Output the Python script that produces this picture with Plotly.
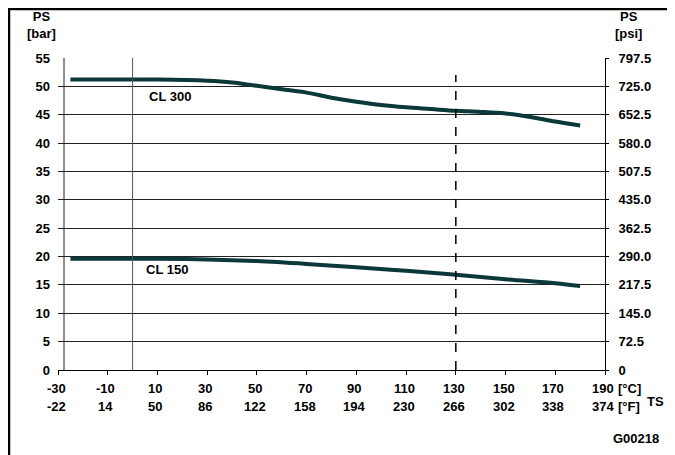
import plotly.graph_objects as go

# ---- data ----
cl300_t = [-25, -10, 10, 30, 40, 50, 60, 70, 80, 90, 100, 110, 120, 130, 140, 150, 160, 170, 180]
cl300_p = [51.2, 51.2, 51.2, 51.0, 50.7, 50.1, 49.5, 48.9, 48.0, 47.3, 46.7, 46.3, 46.0, 45.7, 45.5, 45.2, 44.6, 43.8, 43.1]
cl150_t = [-25, -10, 10, 30, 50, 70, 90, 110, 130, 150, 170, 180]
cl150_p = [19.6, 19.6, 19.6, 19.5, 19.2, 18.7, 18.1, 17.5, 16.8, 16.0, 15.3, 14.8]

x_ticks_c = [-30, -10, 10, 30, 50, 70, 90, 110, 130, 150, 170, 190]
x_ticks_f = ["-22", "14", "50", "86", "122", "158", "194", "230", "266", "302", "338", "374"]
y_ticks_bar = [0, 5, 10, 15, 20, 25, 30, 35, 40, 45, 50, 55]
y_ticks_psi = [0, 72.5, 145.0, 217.5, 290.0, 362.5, 435.0, 507.5, 580.0, 652.5, 725.0, 797.5]
y_ticks_psi_text = ["0"] + [f"{v:.1f}" for v in y_ticks_psi[1:]]

FONT = "Liberation Sans"
LINE_COLOR = "#0b3838"
W, H = 675, 455
OFF = 8  # page body margin
L, R, T, B = 50, 78, 50, 93
PW, PH = W - L - R, H - T - B

def px_x(p):
    # screen pixel -> paper x
    return (p - OFF - L) / PW

def px_y(p):
    return (H - B - (p - OFF)) / PH

fig = go.Figure()
fig.add_trace(go.Scatter(x=cl300_t, y=cl300_p, mode="lines", line=dict(color=LINE_COLOR, width=4, shape="spline"),
                         showlegend=False, hoverinfo="skip"))
fig.add_trace(go.Scatter(x=cl150_t, y=cl150_p, mode="lines", line=dict(color=LINE_COLOR, width=4, shape="spline"),
                         showlegend=False, hoverinfo="skip"))
fig.add_trace(go.Scatter(x=[None], y=[None], yaxis="y2", showlegend=False, hoverinfo="skip"))

tfont = dict(family=FONT, size=13, color="black", weight="bold")

fig.update_layout(
    width=W, height=H,
    margin=dict(l=L, r=R, t=T, b=B, pad=0),
    paper_bgcolor="white", plot_bgcolor="white",
    xaxis=dict(range=[-30, 190], tickvals=x_ticks_c, showticklabels=False, ticks="outside", ticklen=4,
               tickcolor="black", showline=True, linecolor="black", linewidth=1, showgrid=False, zeroline=False,
               fixedrange=True),
    yaxis=dict(range=[0, 55], tickvals=y_ticks_bar, ticks="", showgrid=True, gridcolor="#222222", gridwidth=1,
               zeroline=False, showline=False, tickfont=tfont, ticklabelstandoff=7),
    yaxis2=dict(range=[0, 797.5], tickvals=y_ticks_psi, ticktext=y_ticks_psi_text, overlaying="y", side="right",
                showgrid=False, zeroline=False, showline=True, linecolor="black", linewidth=1,
                ticks="outside", ticklen=3, tickcolor="black", tickfont=tfont, ticklabelstandoff=7),
)

shapes = []
shapes.append(dict(type="line", xref="paper", yref="y", x0=px_x(64), x1=px_x(64), y0=0, y1=55,
                   line=dict(color="#222222", width=1)))
shapes.append(dict(type="line", xref="x", yref="y", x0=0, x1=0, y0=0, y1=55, line=dict(color="#555555", width=1)))
shapes.append(dict(type="line", xref="x", yref="y", x0=130, x1=130, y0=0, y1=52,
                   line=dict(color="black", width=1.5, dash="dash")))
shapes.append(dict(type="rect", xref="paper", yref="paper", x0=px_x(9), x1=px_x(700), y0=px_y(480), y1=px_y(9),
                   line=dict(color="black", width=2.5), fillcolor="rgba(0,0,0,0)", layer="above"))
fig.update_layout(shapes=shapes)

ann = []
for c, f in zip(x_ticks_c, x_ticks_f):
    ann.append(dict(x=c, y=0, xref="x", yref="y", text=str(c), showarrow=False, font=tfont,
                    xanchor="center", yanchor="middle", yshift=-18, xshift=-2))
    ann.append(dict(x=c, y=0, xref="x", yref="y", text=f, showarrow=False, font=tfont,
                    xanchor="center", yanchor="middle", yshift=-36, xshift=-2))
ann.append(dict(x=190, y=0, xref="x", yref="y", text="[°C]", showarrow=False, font=tfont,
                xanchor="left", yanchor="middle", yshift=-18, xshift=11))
ann.append(dict(x=190, y=0, xref="x", yref="y", text="[°F]", showarrow=False, font=tfont,
                xanchor="left", yanchor="middle", yshift=-36, xshift=11))
ann.append(dict(x=px_x(655), y=px_y(401), xref="paper", yref="paper", text="TS", showarrow=False, font=tfont,
                xanchor="center", yanchor="middle"))
ann.append(dict(x=px_x(661), y=px_y(438), xref="paper", yref="paper", text="G00218", showarrow=False, font=tfont,
                xanchor="right", yanchor="middle"))
ann.append(dict(x=px_x(41), y=px_y(25), xref="paper", yref="paper", text="PS<br>[bar]", showarrow=False,
                font=tfont, xanchor="center", yanchor="middle", align="center"))
ann.append(dict(x=px_x(628), y=px_y(25), xref="paper", yref="paper", text="PS<br>[psi]", showarrow=False,
                font=tfont, xanchor="center", yanchor="middle", align="center"))
ann.append(dict(x=15, y=48.2, xref="x", yref="y", text="CL 300", showarrow=False, font=tfont,
                xanchor="center", yanchor="middle"))
ann.append(dict(x=14, y=17.8, xref="x", yref="y", text="CL 150", showarrow=False, font=tfont,
                xanchor="center", yanchor="middle"))
fig.update_layout(annotations=ann)

fig.write_html("out.html")
